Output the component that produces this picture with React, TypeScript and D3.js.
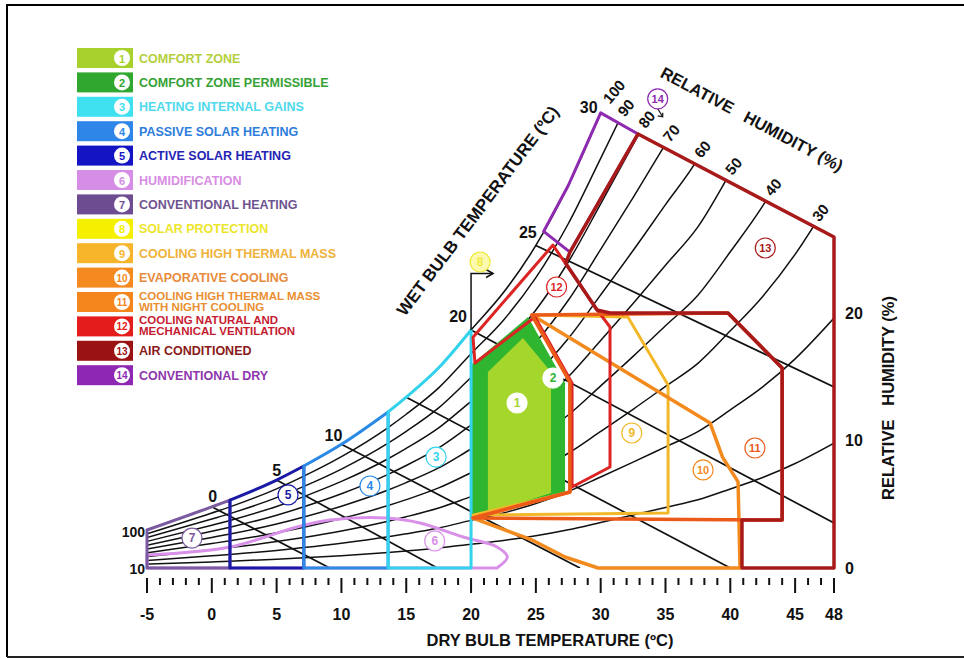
import * as d3 from "d3"

const FONT = "'Liberation Sans', Arial, Helvetica, sans-serif"

// dry bulb axis (°C) and the right-hand scale
const T_MIN = -5
const T_MAX = 48
const X_LABELS = [-5, 0, 5, 10, 15, 20, 25, 30, 35, 40, 45, 48]
const Y_LABELS = [0, 10, 20]

// saturation curve (100 % RH) in right-axis units
const SAT_T = [-5, 0, 1.4, 5, 7.1, 10, 13.6, 15, 17.5, 20, 22.5, 25, 27.5, 30, 32.5, 35, 37.5, 40, 42.5, 45, 48]
const SAT_H = [2.98, 4.8, 5.33, 6.9, 8.0, 9.7, 12.24, 13.4, 15.7, 18.67, 21.6, 25.3, 30.0, 35.7, 41.5, 47.5, 53.5, 62, 71, 82, 98]

const RH_LEVELS = [10, 20, 30, 40, 50, 60, 70, 80, 90]
const RH_LABELS = [100, 90, 80, 70, 60, 50, 40, 30]

// wet bulb lines: start on the saturation curve, end on the frame
const WB_T = [0, 5, 10, 15, 20, 25, 30]
const WB_END: [number, number][] = [[9.1, 0], [17.4, 0], [28.4, 0], [40, 0], [48, 3.53], [48, 14.2], [48, 25.96]]
const WB_LABELED = [0, 5, 10, 20, 25, 30]
const WB_LABEL_OFFSET = [[1, -10], [0, -10], [-8, -9], [0, 0], [-13, -13], [-8, -13], [-12, -5]]

// heating strips under the saturation curve: 7, 5, 4, 3
const HEAT_BOUNDS = [-5, 1.4, 7.1, 13.6, 20]

// zone outlines (T °C, right-axis units)
const ZONE1: [number, number][] = [[21.3, 4.31], [21.3, 15.37], [24.0, 18.04], [26.17, 15.37], [26.17, 5.88]]
const ZONE2: [number, number][] = [[20, 4.0], [20, 15.92], [24.4, 19.69], [27.25, 14.5], [27.25, 5.96]]
const ZONE6: [number, number][] = [[-5, 1.02], [1.4, 1.65], [6.57, 3.22], [9.12, 3.76], [13.5, 3.92], [16.06, 3.53], [19.4, 2.43], [22.0, 1.65], [22.8, 0.86], [22.0, 0]]
const ZONE9: [number, number][] = [[24.7, 19.84], [32.1, 19.69], [35.2, 14.35], [35.2, 4.31], [20.15, 4.15], [27.63, 5.96], [27.63, 14.59]]
const ZONE10: [number, number][] = [[24.7, 19.84], [38.44, 11.37], [39.4, 8.7], [40.6, 6.75], [40.75, 0], [29.8, 0], [27.25, 0.86], [24.7, 2.2], [20.15, 3.92], [27.63, 5.96], [27.63, 14.59]]
const ZONE11: [number, number][] = [[24.7, 19.84], [39.82, 20.0], [44.0, 15.69], [44.0, 3.76], [20.15, 3.92], [27.63, 5.96], [27.63, 14.59]]
const ZONE12: [number, number][] = [[20.15, 18.1], [26.32, 25.33], [29.72, 20.24], [30.72, 18.9], [30.72, 7.92], [27.79, 6.35], [27.79, 14.51], [24.93, 19.69], [20.3, 16.08]]
const ZONE13: [number, number][] = [[32.88, 34.04], [48, 25.96], [48, 0], [40.9, 0], [40.9, 3.76], [44.0, 3.76], [44.0, 15.69], [39.82, 20.0], [30.72, 20.0], [29.72, 20.24], [27.3, 23.9], [27.63, 24.78]]
const ZONE14: [number, number][] = [[30, 35.7], [32.88, 34.04], [27.63, 24.78], [25.6, 26.4], [27.5, 30.0]]
const ARROW8: [number, number][] = [[20, 18.67], [20, 23.1], [21.7, 23.1]]

// legend
const LEGEND_NAMES = [
  "COMFORT ZONE",
  "COMFORT ZONE PERMISSIBLE",
  "HEATING INTERNAL GAINS",
  "PASSIVE SOLAR HEATING",
  "ACTIVE SOLAR HEATING",
  "HUMIDIFICATION",
  "CONVENTIONAL HEATING",
  "SOLAR PROTECTION",
  "COOLING HIGH THERMAL MASS",
  "EVAPORATIVE COOLING",
  "COOLING HIGH THERMAL MASS|WITH NIGHT COOLING",
  "COOLING NATURAL AND|MECHANICAL VENTILATION",
  "AIR CONDITIONED",
  "CONVENTIONAL DRY",
]
const SWATCH = ["#a9d12e", "#30a830", "#3fe0f0", "#2d86e8", "#1414c4", "#d68de6", "#6e4c92", "#f5f000", "#f6b52a", "#f58a20", "#f5861e", "#e41c1c", "#9b1212", "#8e28b4"]
const INK = ["#b4cf3c", "#36a236", "#4fd9ec", "#2e7ddc", "#2424b4", "#d88de4", "#6e5490", "#ece62c", "#efb23a", "#e88b3c", "#e98f32", "#c61c32", "#8a1a1a", "#8e36ac"]
const LINE = ["#a4d62c", "#2fb52f", "#33d3ee", "#2a8ae6", "#1a1aa6", "#d890e8", "#7a5aa0", "#eeea30", "#f2b82a", "#f28a1e", "#ec5a1a", "#dc2424", "#a81a1a", "#8e2ab0"]

// zone number tags (T, H)
const TAGS: [number, number, number][] = [
  [1, 23.55, 12.94], [2, 26.32, 14.9], [3, 17.3, 8.7], [4, 12.2, 6.43], [5, 5.88, 5.73],
  [6, 17.2, 2.12], [7, -1.53, 2.35], [8, 20.7, 24.0], [9, 32.4, 10.59], [10, 37.9, 7.69],
  [11, 41.9, 9.41], [12, 26.6, 22.04], [13, 42.7, 25.1], [14, 34.4, 36.8],
]

type Pt = [number, number]

export default function App() {
  const x = d3.scaleLinear().domain([T_MIN, T_MAX]).range([147, 834])
  const y = d3.scaleLinear().domain([0, 20]).range([568, 313])
  const lin = d3.line<Pt>().x((d) => x(d[0])).y((d) => y(d[1]))
  const smooth = d3.line<Pt>().x((d) => x(d[0])).y((d) => y(d[1])).curve(d3.curveMonotoneX)
  const round = d3.line<Pt>().x((d) => x(d[0])).y((d) => y(d[1])).curve(d3.curveCatmullRom)
  const sat = d3.scaleLinear().domain(SAT_T).range(SAT_H)
  const satPts = (t0: number, t1: number): Pt[] =>
    SAT_T.map((t, i) => [t, SAT_H[i]] as Pt).filter((p) => p[0] >= t0 - 1e-9 && p[0] <= t1 + 1e-9)
  const poly = (pts: Pt[]) => lin(pts) + "Z"

  const strip = (t0: number, t1: number) =>
    `M${x(t0)},${y(0)}` + (smooth(satPts(t0, t1)) ?? "").replace(/^M/, "L") + `L${x(t1)},${y(0)}Z`

  const frameClip =
    `M${x(-5)},${y(0)}` +
    (smooth(satPts(-5, 30)) ?? "").replace(/^M/, "L") +
    `L${x(48)},${y(WB_END[6][1])}L${x(48)},${y(0)}Z`

  // wet bulb 30 line (upper frame) for RH label placement
  const sat30 = SAT_H[SAT_T.indexOf(30)]
  const wb30 = (t: number) => sat30 + ((WB_END[6][1] - sat30) * (t - 30)) / (48 - 30)
  const rhEnd = (r: number) => {
    if (r >= 100) return 30
    const ts = d3.range(30, 48, 0.05)
    return ts.find((t) => (r / 100) * sat(t) >= wb30(t)) ?? 48
  }
  const nx = 0.47, ny = -0.883

  const zone6Path = `M${x(-5)},${y(0)}` + (round(ZONE6) ?? "").replace(/^M/, "L") + "Z"

  const bold = { fontFamily: FONT, fontWeight: 700 as const }

  return (
    <svg
      width={964}
      height={658}
      viewBox="0 0 964 658"
      style={{ position: "absolute", left: 0, top: 0, background: "#fff" }}
    >
      <defs>
        <clipPath id="frame">
          <path d={frameClip} />
        </clipPath>
      </defs>

      {/* page frame */}
      <path d="M7,657V5H964" fill="none" stroke="#000" strokeWidth={2} />
      <path d="M7,657H964" fill="none" stroke="#222" strokeWidth={2} />

      {/* psychrometric grid */}
      <g clipPath="url(#frame)" fill="none" stroke="#111" strokeWidth={1.5}>
        {RH_LEVELS.map((r) => (
          <path key={r} d={smooth(SAT_T.map((t, i) => [t, (r / 100) * SAT_H[i]] as Pt)) ?? ""} />
        ))}
        {WB_T.map((t, i) => (
          <path key={t} d={lin([[t, SAT_H[SAT_T.indexOf(t)]], WB_END[i]]) ?? ""} strokeWidth={1.7} />
        ))}
      </g>
      <path d={smooth(satPts(-5, 30)) ?? ""} fill="none" stroke="#111" strokeWidth={1.6} />

      {/* comfort zones */}
      <path d={poly(ZONE2)} fill={LINE[1]} />
      <path d={poly(ZONE1)} fill={LINE[0]} />

      {/* humidification and heating strips */}
      <g fill="none" strokeLinejoin="round">
        <path d={zone6Path} stroke={LINE[5]} strokeWidth={3} />
        <path d={strip(HEAT_BOUNDS[0], HEAT_BOUNDS[1])} stroke={LINE[6]} strokeWidth={3} />
        <path d={strip(HEAT_BOUNDS[1], HEAT_BOUNDS[2])} stroke={LINE[4]} strokeWidth={3} />
        <path d={strip(HEAT_BOUNDS[2], HEAT_BOUNDS[3])} stroke={LINE[3]} strokeWidth={3} />
        <path d={strip(HEAT_BOUNDS[3], HEAT_BOUNDS[4])} stroke={LINE[2]} strokeWidth={3} />
      </g>

      {/* cooling zones */}
      <g fill="none" strokeLinejoin="round">
        <path d={poly(ZONE9)} stroke={LINE[8]} strokeWidth={3} />
        <path d={poly(ZONE10)} stroke={LINE[9]} strokeWidth={3.5} />
        <path d={poly(ZONE12)} stroke={LINE[11]} strokeWidth={3} />
        <path d={poly(ZONE11)} stroke={LINE[10]} strokeWidth={3.5} />
        <path d={poly(ZONE14)} stroke={LINE[13]} strokeWidth={3} />
        <path d={poly(ZONE13)} stroke={LINE[12]} strokeWidth={3.5} />
      </g>

      {/* solar protection arrow */}
      <path d={lin(ARROW8) ?? ""} fill="none" stroke="#111" strokeWidth={1.5} />
      <path
        d={`M${x(ARROW8[2][0]) - 7},${y(ARROW8[2][1]) - 4}L${x(ARROW8[2][0])},${y(ARROW8[2][1])}L${x(ARROW8[2][0]) - 7},${y(ARROW8[2][1]) + 4}`}
        fill="none"
        stroke="#111"
        strokeWidth={1.5}
      />
      {/* conventional dry pointer */}
      <path
        d={`M${x(34.4)},${y(36.8) + 10}l5,8m-5,-1l5,1l0,-4`}
        fill="none"
        stroke="#111"
        strokeWidth={1.2}
      />

      {/* zone tags */}
      {TAGS.map(([n, t, h]) => {
        const i = n - 1
        const comfort = n <= 2
        const fill = n === 8 ? "#fbf8b0" : "#fff"
        return (
          <g key={n}>
            <circle
              cx={x(t)}
              cy={y(h)}
              r={10}
              fill={fill}
              stroke={comfort ? "#fff" : LINE[i]}
              strokeWidth={1.2}
            />
            <text
              x={x(t)}
              y={y(h)}
              textAnchor="middle"
              dominantBaseline="central"
              fontSize={n >= 10 ? 11 : 12}
              fill={n === 8 ? "#f2ec40" : LINE[i]}
              {...bold}
            >
              {n}
            </text>
          </g>
        )
      })}

      {/* wet bulb labels */}
      {WB_T.map((t, i) =>
        WB_LABELED.includes(t) ? (
          <text
            key={t}
            x={x(t) + WB_LABEL_OFFSET[i][0]}
            y={y(SAT_H[SAT_T.indexOf(t)]) + WB_LABEL_OFFSET[i][1]}
            textAnchor="middle"
            dominantBaseline="central"
            fontSize={16}
            fill="#111"
            {...bold}
          >
            {t}
          </text>
        ) : null
      )}

      {/* RH labels along the top */}
      {RH_LABELS.map((r) => {
        const t = rhEnd(r)
        const off = r === 100 ? 24 : 15
        const hx = x(t) + nx * off + (r === 100 ? 2 : 0)
        const hy = y((r / 100) * sat(t)) + ny * off
        return (
          <text
            key={r}
            x={hx}
            y={hy}
            transform={`rotate(-50 ${hx} ${hy})`}
            textAnchor="middle"
            dominantBaseline="central"
            fontSize={15}
            fill="#111"
            {...bold}
          >
            {r}
          </text>
        )
      })}

      {/* left RH labels */}
      <text x={145} y={y(SAT_H[0]) + 2} textAnchor="end" dominantBaseline="central" fontSize={14} fill="#111" {...bold}>
        100
      </text>
      <text x={145} y={y(0) + 1} textAnchor="end" dominantBaseline="central" fontSize={14} fill="#111" {...bold}>
        10
      </text>

      {/* x axis */}
      <g stroke="#111" strokeWidth={2}>
        {d3.range(T_MIN, T_MAX + 1).map((t) => {
          const major = X_LABELS.includes(t)
          return <line key={t} x1={x(t)} x2={x(t)} y1={578} y2={major ? 593 : 585} />
        })}
      </g>
      {X_LABELS.map((t) => (
        <text key={t} x={x(t)} y={620} textAnchor="middle" fontSize={16} fill="#111" {...bold}>
          {t}
        </text>
      ))}
      <text x={550} y={646} textAnchor="middle" fontSize={16.5} fill="#111" {...bold}>
        DRY BULB TEMPERATURE (ºC)
      </text>

      {/* right scale */}
      {Y_LABELS.map((v) => (
        <text key={v} x={845} y={y(v)} dominantBaseline="central" fontSize={16} fill="#111" {...bold}>
          {v}
        </text>
      ))}
      <text
        x={888}
        y={398}
        transform="rotate(-90 888 398)"
        textAnchor="middle"
        dominantBaseline="central"
        fontSize={16.5}
        fill="#111"
        style={{ whiteSpace: "pre" }}
        {...bold}
      >
        {"RELATIVE   HUMIDITY (%)"}
      </text>

      {/* slanted titles */}
      <text
        x={478}
        y={211}
        transform="rotate(-53 478 211)"
        textAnchor="middle"
        dominantBaseline="central"
        fontSize={17}
        fill="#111"
        {...bold}
      >
        WET BULB TEMPERATURE (ºC)
      </text>
      <text
        x={752}
        y={119}
        transform="rotate(28 752 119)"
        textAnchor="middle"
        dominantBaseline="central"
        fontSize={16.5}
        fill="#111"
        style={{ whiteSpace: "pre" }}
        {...bold}
      >
        {"RELATIVE   HUMIDITY (%)"}
      </text>

      {/* legend */}
      {LEGEND_NAMES.map((name, i) => {
        const top = 48 + i * 24.4
        const lines = name.split("|")
        return (
          <g key={name}>
            <rect x={77} y={top} width={56} height={20} fill={SWATCH[i]} />
            <circle cx={122} cy={top + 10} r={8} fill="#fff" />
            <text
              x={122}
              y={top + 10.5}
              textAnchor="middle"
              dominantBaseline="central"
              fontSize={i >= 9 ? 10 : 11}
              fill={SWATCH[i]}
              {...bold}
            >
              {i + 1}
            </text>
            {lines.length === 1 ? (
              <text x={139} y={top + 14.5} fontSize={12.5} fill={INK[i]} {...bold}>
                {name}
              </text>
            ) : (
              lines.map((l, j) => (
                <text key={l} x={139} y={top + 8 + j * 10.5} fontSize={11.5} fill={INK[i]} {...bold}>
                  {l}
                </text>
              ))
            )}
          </g>
        )
      })}
    </svg>
  )
}
